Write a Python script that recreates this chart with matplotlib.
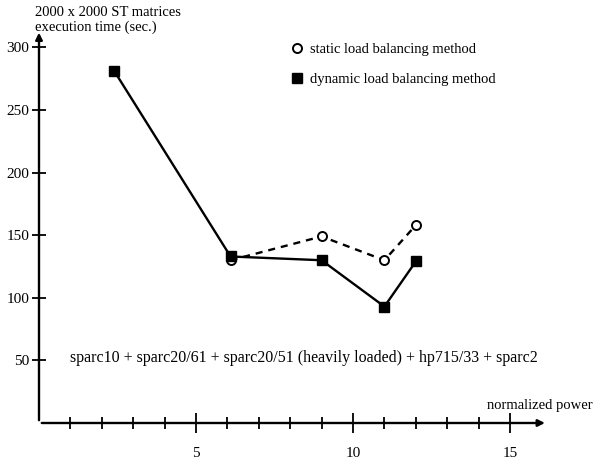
import numpy as np
import matplotlib.pyplot as plt

plt.rcParams['font.family'] = ['Liberation Serif', 'DejaVu Serif']

# values
power_static = [6.1, 9.0, 11.0, 12.0]
time_static = [130, 149, 130, 158]
power_dynamic = [2.4, 6.1, 9.0, 11.0, 12.0]
time_dynamic = [281, 133, 130, 93, 129]

y_ticks = [50, 100, 150, 200, 250, 300]
x_minor = list(range(1, 16))
x_major = [5, 10, 15]

fig = plt.figure(figsize=(5.96, 4.66), dpi=100)
ax = fig.add_axes([39 / 596, 43 / 466, 17 * 31.4 / 596, 320 * 1.252 / 466])
ax.set_xlim(0, 17)
ax.set_ylim(0, 320)
for s in ax.spines.values():
    s.set_visible(False)

# hand-drawn style axes with arrows
ax.annotate('', xy=(16.2, 0), xytext=(0, 0),
            arrowprops=dict(arrowstyle='-|>', lw=1.7, color='black', mutation_scale=10),
            annotation_clip=False)
ax.annotate('', xy=(0, 314), xytext=(0, 0),
            arrowprops=dict(arrowstyle='-|>', lw=1.7, color='black', mutation_scale=10),
            annotation_clip=False)

# ticks drawn across the axes
ax.set_xticks(x_major)
ax.set_xticks(x_minor, minor=True)
ax.set_yticks(y_ticks)
ax.tick_params(axis='x', which='major', direction='inout', length=14, width=1.3,
               labelsize=11, pad=10)
ax.tick_params(axis='x', which='minor', direction='inout', length=8, width=1.3)
ax.tick_params(axis='y', direction='inout', length=10, width=1.3, labelsize=11, pad=2)

ax.plot(power_static, time_static, linestyle=(0, (3, 2.5)), color='black', lw=1.7,
        marker='o', markersize=6.5, markerfacecolor='white', markeredgewidth=1.4,
        label='static load balancing method', zorder=3)
ax.plot(power_dynamic, time_dynamic, linestyle='-', color='black', lw=1.7,
        marker='s', markersize=7.5, label='dynamic load balancing method', zorder=4)

leg = ax.legend(loc='upper left', bbox_to_anchor=(284 / 596, 1 - 30 / 466),
                bbox_transform=fig.transFigure, frameon=False, fontsize=10.5,
                handlelength=0, handletextpad=0.9, labelspacing=1.15)

fig.text(35 / 596, 1 - 6 / 466, '2000 x 2000 ST matrices\nexecution time (sec.)',
         ha='left', va='top', fontsize=10.5, linespacing=1.15)
fig.text(70 / 596, 1 - 358 / 466,
         'sparc10 + sparc20/61 + sparc20/51 (heavily loaded) + hp715/33 + sparc2',
         ha='left', va='center', fontsize=11.5)
fig.text(593 / 596, 1 - 406 / 466, 'normalized power', ha='right', va='center',
         fontsize=10.5)

fig.savefig('out.png', dpi=100)
